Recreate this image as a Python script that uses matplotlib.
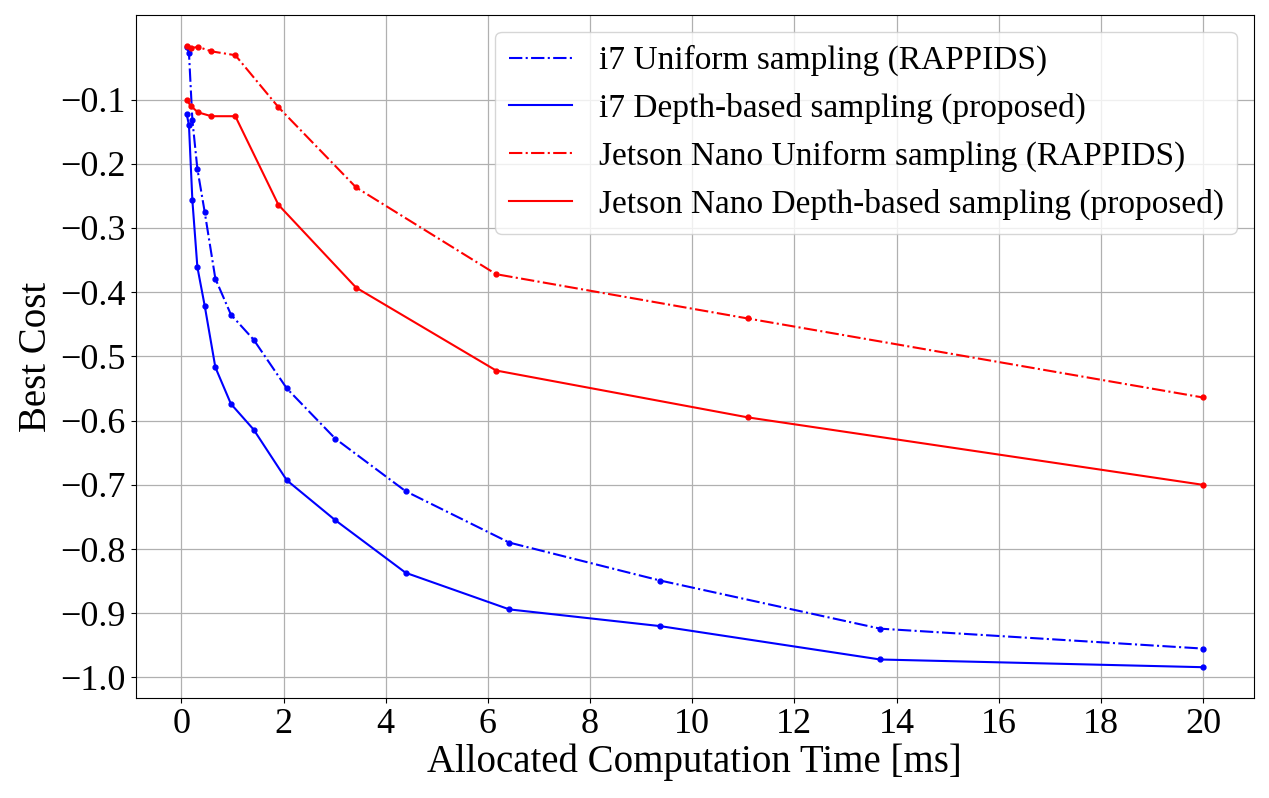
import matplotlib
matplotlib.use("Agg")
import matplotlib.pyplot as plt
from matplotlib.lines import Line2D

plt.rcParams['font.family'] = ['Liberation Serif', 'DejaVu Serif']
plt.rcParams['axes.unicode_minus'] = True

# i7 time points [ms]
x_i7 = [0.1, 0.146, 0.213, 0.311, 0.454, 0.663, 0.968, 1.413, 2.063, 3.01, 4.39, 6.42, 9.37, 13.68, 20.0]
i7_uniform = [-0.018, -0.027, -0.132, -0.208, -0.275, -0.379, -0.435, -0.474, -0.550, -0.628,
              -0.710, -0.790, -0.849, -0.924, -0.955]
i7_depth = [-0.122, -0.140, -0.257, -0.361, -0.421, -0.517, -0.574, -0.614, -0.693, -0.755,
            -0.837, -0.894, -0.920, -0.972, -0.984]

# Jetson Nano time points [ms]
x_jn = [0.1, 0.18, 0.325, 0.585, 1.054, 1.898, 3.42, 6.16, 11.09, 20.0]
jn_uniform = [-0.017, -0.020, -0.018, -0.025, -0.031, -0.112, -0.237, -0.372, -0.441, -0.564]
jn_depth = [-0.100, -0.110, -0.120, -0.126, -0.126, -0.264, -0.393, -0.522, -0.595, -0.700]

labels = ["i7 Uniform sampling (RAPPIDS)",
          "i7 Depth-based sampling (proposed)",
          "Jetson Nano Uniform sampling (RAPPIDS)",
          "Jetson Nano Depth-based sampling (proposed)"]

xticks = list(range(0, 21, 2))
yticks = [-0.1, -0.2, -0.3, -0.4, -0.5, -0.6, -0.7, -0.8, -0.9, -1.0]

fig = plt.figure(figsize=(12.69, 7.98), dpi=100)
ax = fig.add_axes([0.107, 0.125, 0.881, 0.856])

lw = 1.5
ms = 3.5
ax.plot(x_i7, i7_uniform, color='blue', linestyle='-.', linewidth=lw, marker='o', markersize=ms, label=labels[0])
ax.plot(x_i7, i7_depth, color='blue', linestyle='-', linewidth=lw, marker='o', markersize=ms, label=labels[1])
ax.plot(x_jn, jn_uniform, color='red', linestyle='-.', linewidth=lw, marker='o', markersize=ms, label=labels[2])
ax.plot(x_jn, jn_depth, color='red', linestyle='-', linewidth=lw, marker='o', markersize=ms, label=labels[3])

ax.set_xticks(xticks)
ax.set_yticks(yticks)
ax.set_yticklabels([f"\u2212{abs(v):.1f}" for v in yticks])
ax.tick_params(labelsize=26)
ax.grid(True, color='#b0b0b0', linewidth=0.9)
ax.set_axisbelow(True)
ax.set_xlabel("Allocated Computation Time [ms]", fontsize=28, labelpad=2)
ax.set_ylabel("Best Cost", fontsize=28)

handles, labs = ax.get_legend_handles_labels()
leg_handles = [Line2D([], [], color=h.get_color(), linestyle=h.get_linestyle(), linewidth=lw) for h in handles]
ax.legend(leg_handles, labs, loc='upper right', fontsize=24, handlelength=1.9,
          labelspacing=0.5, framealpha=0.8)

fig.savefig("out.png", dpi=100)
